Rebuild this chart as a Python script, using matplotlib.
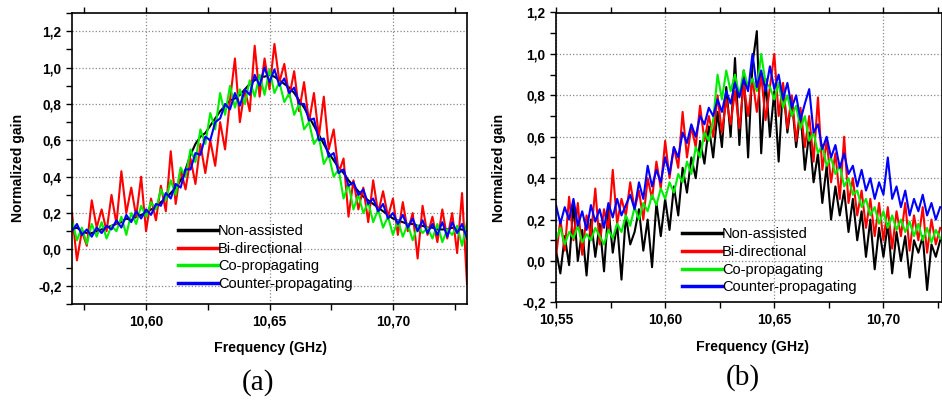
import matplotlib
matplotlib.use("Agg")
import matplotlib.pyplot as plt
import numpy as np
from matplotlib.ticker import FuncFormatter, MultipleLocator

# ---- panel (a): 10.570 .. 10.730 GHz, step 0.002
freq_a = np.linspace(10.570, 10.730, 81)
non_a = [0.11, 0.12, 0.10, 0.09, 0.09, 0.10, 0.11, 0.12, 0.13, 0.14, 0.15, 0.17, 0.16, 0.18, 0.19, 0.20,
         0.22, 0.23, 0.26, 0.28, 0.31, 0.34, 0.38, 0.44, 0.52, 0.58, 0.62, 0.64, 0.68, 0.72, 0.76, 0.79,
         0.82, 0.83, 0.85, 0.88, 0.91, 0.93, 0.95, 0.95, 0.96, 0.95, 0.93, 0.91, 0.89, 0.86, 0.82, 0.78,
         0.73, 0.68, 0.63, 0.58, 0.53, 0.49, 0.45, 0.42, 0.38, 0.35, 0.32, 0.29, 0.27, 0.25, 0.23, 0.21,
         0.19, 0.17, 0.16, 0.15, 0.14, 0.14, 0.13, 0.13, 0.12, 0.12, 0.11, 0.11, 0.11, 0.12, 0.11, 0.11, 0.10]
bi_a = [0.20, -0.06, 0.10, 0.02, 0.27, 0.12, 0.22, 0.10, 0.30, 0.14, 0.43, 0.20, 0.34, 0.18, 0.40, 0.10,
        0.28, 0.16, 0.35, 0.21, 0.54, 0.25, 0.44, 0.33, 0.50, 0.36, 0.58, 0.42, 0.60, 0.46, 0.70, 0.55,
        0.82, 1.05, 0.70, 0.88, 0.76, 1.12, 0.84, 1.05, 0.88, 1.13, 0.92, 1.02, 0.84, 0.98, 0.76, 0.92,
        0.70, 0.86, 0.62, 0.84, 0.55, 0.66, 0.42, 0.50, 0.18, 0.38, 0.22, 0.34, 0.15, 0.38, 0.20, 0.32,
        0.18, 0.28, 0.08, 0.26, 0.10, 0.20, -0.05, 0.24, 0.08, 0.18, 0.04, 0.22, 0.06, 0.20, -0.02, 0.31, -0.19]
co_a = [0.16, 0.05, 0.12, 0.03, 0.14, 0.07, 0.15, 0.06, 0.13, 0.10, 0.18, 0.08, 0.20, 0.14, 0.24, 0.18,
        0.26, 0.22, 0.33, 0.27, 0.38, 0.30, 0.45, 0.40, 0.55, 0.48, 0.66, 0.58, 0.75, 0.66, 0.86, 0.74,
        0.90, 0.78, 0.88, 0.80, 0.93, 0.84, 0.96, 0.85, 0.99, 0.86, 0.92, 0.81, 0.86, 0.74, 0.80, 0.66,
        0.70, 0.58, 0.62, 0.47, 0.52, 0.40, 0.44, 0.28, 0.36, 0.22, 0.30, 0.20, 0.26, 0.15, 0.22, 0.12,
        0.18, 0.08, 0.16, 0.07, 0.14, 0.05, 0.13, 0.09, 0.12, 0.06, 0.14, 0.04, 0.11, 0.08, 0.13, 0.02, 0.15]
counter_a = [0.10, 0.14, 0.08, 0.11, 0.07, 0.12, 0.09, 0.13, 0.11, 0.16, 0.12, 0.19, 0.15, 0.21, 0.17, 0.22,
             0.19, 0.25, 0.24, 0.31, 0.28, 0.36, 0.34, 0.44, 0.44, 0.53, 0.52, 0.62, 0.60, 0.70, 0.72, 0.80,
             0.77, 0.86, 0.79, 0.88, 0.85, 0.96, 0.90, 1.00, 0.92, 0.99, 0.90, 0.94, 0.86, 0.89, 0.80, 0.80,
             0.71, 0.72, 0.60, 0.61, 0.51, 0.53, 0.42, 0.44, 0.35, 0.37, 0.30, 0.33, 0.25, 0.28, 0.21, 0.25,
             0.17, 0.20, 0.14, 0.19, 0.12, 0.17, 0.10, 0.16, 0.09, 0.14, 0.08, 0.15, 0.07, 0.15, 0.09, 0.14, 0.06]

# ---- panel (b): 10.550 .. 10.726 GHz, step 0.002
freq_b = np.linspace(10.550, 10.726, 89)
non_b = [0.05, -0.06, 0.12, -0.02, 0.28, 0.00, 0.15, -0.07, 0.20, 0.02, 0.18, -0.05, 0.26, 0.04, 0.18,
         -0.09, 0.22, 0.08, 0.14, 0.25, 0.05, 0.20, -0.03, 0.28, 0.12, 0.30, 0.15, 0.36, 0.22, 0.45, 0.33,
         0.50, 0.40, 0.58, 0.47, 0.65, 0.50, 0.72, 0.55, 0.84, 0.60, 0.98, 0.56, 0.92, 0.50, 0.95, 1.11,
         0.52, 0.88, 0.60, 0.82, 0.48, 0.85, 0.62, 0.78, 0.55, 0.72, 0.44, 0.62, 0.38, 0.52, 0.28, 0.46,
         0.20, 0.36, 0.22, 0.34, 0.14, 0.30, 0.10, 0.24, 0.02, 0.20, -0.04, 0.16, 0.02, 0.18, -0.06, 0.14,
         0.00, 0.12, -0.08, 0.10, 0.04, 0.12, -0.14, 0.08, 0.02, 0.10]
bi_b = [0.02, 0.20, 0.05, 0.31, 0.10, 0.28, 0.03, 0.22, 0.12, 0.35, 0.08, 0.25, 0.15, 0.44, 0.18, 0.30,
        0.22, 0.38, 0.25, 0.34, 0.20, 0.40, 0.30, 0.48, 0.35, 0.58, 0.40, 0.55, 0.45, 0.72, 0.50, 0.65,
        0.55, 0.75, 0.58, 0.70, 0.60, 0.80, 0.62, 0.78, 0.66, 0.82, 0.64, 0.85, 0.70, 0.88, 0.72, 0.90,
        0.68, 0.84, 1.00, 0.70, 0.86, 0.64, 0.80, 0.58, 0.74, 0.55, 0.70, 0.48, 0.79, 0.44, 0.58, 0.38,
        0.52, 0.30, 0.60, 0.28, 0.40, 0.22, 0.34, 0.16, 0.30, 0.12, 0.28, 0.10, 0.26, 0.06, 0.24, 0.12,
        0.28, 0.05, 0.22, 0.10, 0.26, 0.04, 0.20, 0.08, 0.16]
co_b = [0.10, 0.16, 0.08, 0.14, 0.11, 0.17, 0.09, 0.13, 0.10, 0.16, 0.12, 0.08, 0.15, 0.11, 0.18, 0.14,
        0.22, 0.17, 0.26, 0.20, 0.28, 0.24, 0.32, 0.27, 0.35, 0.30, 0.38, 0.33, 0.42, 0.38, 0.48, 0.42,
        0.55, 0.50, 0.62, 0.58, 0.68, 0.90, 0.78, 0.92, 0.82, 0.90, 0.80, 0.92, 0.84, 0.88, 0.82, 1.00,
        0.86, 0.84, 0.78, 0.86, 0.74, 0.80, 0.70, 0.75, 0.64, 0.70, 0.58, 0.62, 0.52, 0.56, 0.46, 0.50,
        0.42, 0.46, 0.36, 0.40, 0.32, 0.34, 0.26, 0.30, 0.22, 0.26, 0.18, 0.24, 0.16, 0.22, 0.15, 0.20,
        0.14, 0.19, 0.12, 0.18, 0.10, 0.16, 0.09, 0.15, 0.11]
counter_b = [0.27, 0.18, 0.26, 0.20, 0.30, 0.17, 0.24, 0.15, 0.27, 0.19, 0.25, 0.16, 0.28, 0.21, 0.30,
             0.22, 0.27, 0.32, 0.25, 0.38, 0.30, 0.46, 0.36, 0.44, 0.38, 0.50, 0.42, 0.55, 0.50, 0.62, 0.57,
             0.66, 0.60, 0.70, 0.66, 0.74, 0.70, 0.78, 0.72, 0.82, 0.76, 0.86, 0.79, 0.88, 0.82, 1.00, 0.84,
             0.92, 0.82, 0.94, 0.83, 0.90, 0.78, 0.86, 0.74, 0.80, 0.68, 0.76, 0.83, 0.62, 0.66, 0.54, 0.60,
             0.50, 0.56, 0.45, 0.52, 0.42, 0.46, 0.36, 0.44, 0.34, 0.40, 0.30, 0.38, 0.32, 0.50, 0.30, 0.36,
             0.26, 0.34, 0.22, 0.30, 0.24, 0.32, 0.22, 0.28, 0.20, 0.26]

labels = ["Non-assisted", "Bi-directional", "Co-propagating", "Counter-propagating"]
colors = ["black", "#ff0000", "#00ee00", "#0000ff"]

plt.rcParams["font.family"] = ["Liberation Sans", "DejaVu Sans"]

comma = FuncFormatter(lambda v, pos: ("%.2f" % v).replace(".", ",") if abs(v) > 5 else ("%.1f" % v).replace(".", ","))


def style_axis(ax, xlim, xticks):
    ax.set_xlim(*xlim)
    ax.set_xticks(xticks)
    ax.xaxis.set_minor_locator(MultipleLocator(0.025))
    ax.set_yticks(np.arange(-0.2, 1.21, 0.2))
    ax.yaxis.set_minor_locator(MultipleLocator(0.1))
    ax.xaxis.set_major_formatter(comma)
    ax.yaxis.set_major_formatter(comma)
    ax.grid(True, which="major", color="#888888", linestyle=":", linewidth=0.9)
    ax.tick_params(which="both", direction="out", length=4, width=1.0, top=True, right=False)
    for lab in ax.get_xticklabels() + ax.get_yticklabels():
        lab.set_fontweight("bold")
        lab.set_fontsize(9.8)
    for sp in ax.spines.values():
        sp.set_linewidth(1.2)


fig = plt.figure(figsize=(9.42, 4.01), dpi=100)

ax1 = fig.add_axes([72 / 942, 97 / 401, 395 / 942, 291 / 401])
for ys, c, lab in zip([non_a, bi_a, co_a, counter_a], colors, labels):
    ax1.plot(freq_a, ys, color=c, lw=1.5, label=lab)
style_axis(ax1, (10.57, 10.73), [10.60, 10.65, 10.70])
ax1.set_ylim(-0.3, 1.3)

ax2 = fig.add_axes([556 / 942, 98.6 / 401, 385.5 / 942, 289.9 / 401])
for ys, c, lab in zip([non_b, bi_b, co_b, counter_b], colors, labels):
    ax2.plot(freq_b, ys, color=c, lw=1.5, label=lab)
style_axis(ax2, (10.55, 10.7266), [10.55, 10.60, 10.65, 10.70])
ax2.set_ylim(-0.2, 1.2)

for ax, lx, ly in [(ax1, 178, 224), (ax2, 682, 227.5)]:
    leg = ax.legend(loc="upper left", bbox_to_anchor=(lx / 942, 1 - ly / 401),
                    bbox_transform=fig.transFigure, frameon=False, fontsize=10.5,
                    handlelength=2.75, handletextpad=0.0, labelspacing=0.25,
                    borderpad=0, borderaxespad=0)
    for h in leg.get_lines():
        h.set_linewidth(2.5)

# axis titles and panel tags
for cx, cy in [(270, 348), (753, 347)]:
    fig.text(cx / 942, 1 - cy / 401, "Frequency (GHz)", ha="center", va="center",
             fontsize=10.2, fontweight="bold")
for cx, cy in [(18, 168), (499, 168)]:
    fig.text(cx / 942, 1 - cy / 401, "Normalized gain", ha="center", va="center",
             rotation=90, fontsize=10.1, fontweight="bold")
fig.text(258 / 942, 1 - 383 / 401, "(a)", ha="center", va="center", fontsize=21,
         family="Liberation Serif")
fig.text(743 / 942, 1 - 378 / 401, "(b)", ha="center", va="center", fontsize=21,
         family="Liberation Serif")

fig.savefig("out.png", dpi=100)
